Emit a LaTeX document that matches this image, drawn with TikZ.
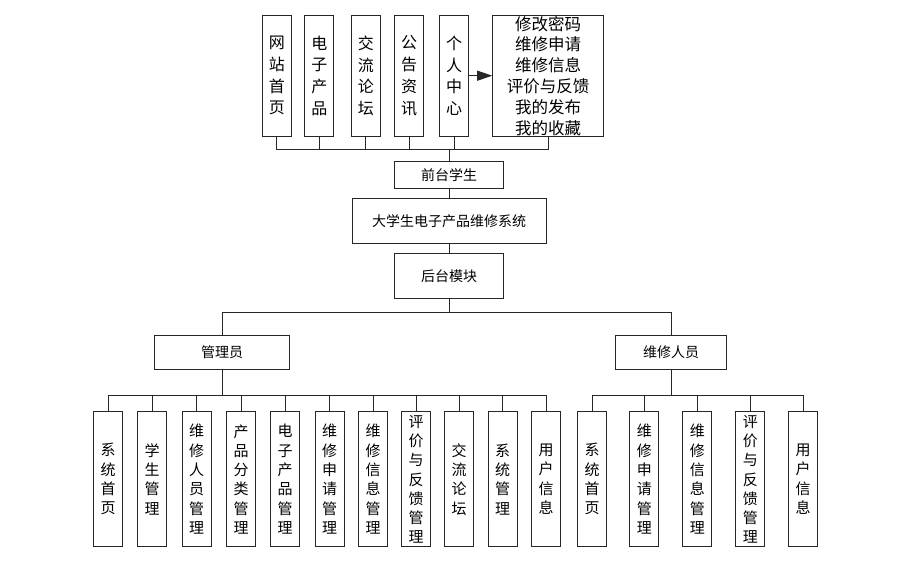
\documentclass[tikz,border=0pt]{standalone}
\usepackage{fontspec}
\setmainfont{Noto Sans CJK SC}
\usetikzlibrary{arrows.meta}

\begin{document}
\begin{tikzpicture}[
  x=1pt, y=-1pt,
  box/.style  = {draw=black!85, line width=1pt, align=center, inner sep=0pt},
  col/.style  = {box, minimum width=29pt, minimum height=120.7pt,
                 font=\fontsize{16}{21.7}\selectfont},
  leaf/.style = {box, minimum width=29pt, minimum height=134.7pt,
                 font=\fontsize{15}{19.3}\selectfont},
  mid/.style  = {box, font=\fontsize{14}{17}\selectfont},
  link/.style = {draw=black!85, line width=0.9pt},
  arr/.style  = {link, -{Triangle[length=15pt,width=10pt]}}
]
\useasboundingbox (0,0) rectangle (915,564);

% front end (student)
\node[col] (home)  at (276.8,75.7) {网\\站\\首\\页};
\node[col] (prod)  at (319.3,75.7) {电\\子\\产\\品};
\node[col] (forum) at (365.9,75.7) {交\\流\\论\\坛};
\node[col] (news)  at (409.0,75.7) {公\\告\\资\\讯};
\node[col] (mine)  at (454.0,75.7) {个\\人\\中\\心};
\node[box, minimum width=110.6pt, minimum height=120.7pt,
      font=\fontsize{16.5}{20.8}\selectfont] (menu) at (548,75.7)
     {修改密码\\维修申请\\维修信息\\评价与反馈\\我的发布\\我的收藏};

\node[mid, minimum width=108.4pt, minimum height=27.3pt] (front) at (449,174.7) {前台学生};
\node[mid, minimum width=194pt, minimum height=45pt] (sys) at (449,220.8) {大学生电子产品维修系统};
\node[mid, minimum width=108.4pt, minimum height=44.6pt] (back) at (449,276) {后台模块};

\node[mid, minimum width=134.6pt, minimum height=34.3pt] (admin) at (222,352.2) {管理员};
\node[mid, minimum width=110.3pt, minimum height=34.3pt] (repair) at (671,352.2) {维修人员};

% back end leaves
\foreach \x/\t [count=\i] in {108/{系\\统\\首\\页}, 152/{学\\生\\管\\理},
    196.5/{维\\修\\人\\员\\管\\理}, 241/{产\\品\\分\\类\\管\\理},
    285/{电\\子\\产\\品\\管\\理}, 329.5/{维\\修\\申\\请\\管\\理},
    373/{维\\修\\信\\息\\管\\理}, 416/{评\\价\\与\\反\\馈\\管\\理},
    459/{交\\流\\论\\坛}, 502.5/{系\\统\\管\\理}, 546/{用\\户\\信\\息}}
  \node[leaf] (a\i) at (\x,479.3) {\t};

\foreach \x/\t [count=\i] in {592/{系\\统\\首\\页}, 644.3/{维\\修\\申\\请\\管\\理},
    697.3/{维\\修\\信\\息\\管\\理}, 750.3/{评\\价\\与\\反\\馈\\管\\理},
    803/{用\\户\\信\\息}}
  \node[leaf] (r\i) at (\x,479.3) {\t};

% connectors
\draw[arr] (mine) -- (menu);

\coordinate (tbus) at (449,149.3);
\foreach \n in {home,prod,forum,news,mine,menu}
  \draw[link] (\n.south) |- (tbus);
\draw[link] (tbus) -- (front.north);
\draw[link] (front) -- (sys);
\draw[link] (sys) -- (back);

\coordinate (mbus) at (449,312.7);
\draw[link] (back.south) -- (mbus);
\draw[link] (admin.north) |- (mbus) -| (repair.north);

\coordinate (abus) at (222,395.3);
\draw[link] (admin.south) -- (abus);
\foreach \i in {1,...,11}
  \draw[link] (abus) -| (a\i.north);

\coordinate (rbus) at (671,395.3);
\draw[link] (repair.south) -- (rbus);
\foreach \i in {1,...,5}
  \draw[link] (rbus) -| (r\i.north);

\end{tikzpicture}
\end{document}
